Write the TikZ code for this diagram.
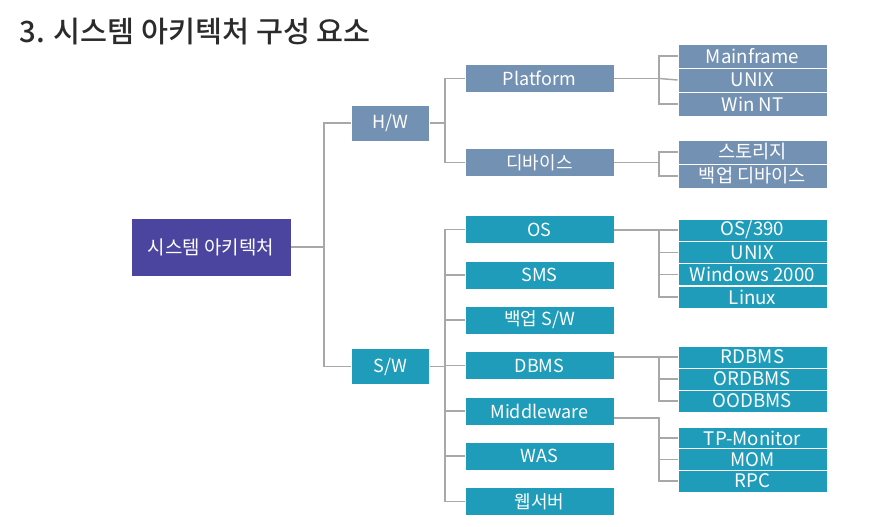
\documentclass[tikz,border=0pt]{standalone}
\usepackage{fontspec}
\setmainfont{Noto Sans CJK KR}
\newfontfamily\titlefont{Noto Sans CJK KR Medium}
\usepackage{tikz}
\usetikzlibrary{calc}
\definecolor{hwblue}{HTML}{7391B2}
\definecolor{swteal}{HTML}{1E9CBA}
\definecolor{rootind}{HTML}{4B45A0}
\definecolor{linegray}{HTML}{A8A8A8}
\definecolor{titlegray}{HTML}{2B2B2B}
\tikzset{
  box/.style={rectangle, inner sep=0pt, text=white, font=\fontsize{13.5}{13.5}\selectfont,
    draw=white, line width=0.6pt},
  hwbox/.style={box, fill=hwblue},
  swbox/.style={box, fill=swteal},
  midbox/.style={minimum width=111.75pt, minimum height=21pt},
  leafbox/.style={minimum width=111.75pt, minimum height=18pt, font=\fontsize{14}{14}\selectfont},
  leafsm/.style={minimum width=111.75pt, minimum height=16.5pt, font=\fontsize{14}{14}\selectfont},
  conn/.style={draw=linegray, line width=1.1pt}
}

\begin{document}
\begin{tikzpicture}[x=0.75pt,y=-0.75pt]

  \useasboundingbox (0,0) rectangle (896,527);

  %% title
  \node[anchor=west, text=titlegray, font=\fontsize{22}{22}\selectfont\titlefont]
    (title) at (15,32) {3. 시스템 아키텍처 구성 요소};

  %% root and first level
  \node[box, fill=rootind, minimum width=120pt, minimum height=43.5pt,
    font=\fontsize{14.2}{14.2}\selectfont] (root) at (211,247) {시스템 아키텍처};
  \node[hwbox, minimum width=59pt, minimum height=27pt] (hw) at (390.5,123) {H/W};
  \node[swbox, minimum width=59pt, minimum height=27pt] (sw) at (390.5,366.5) {S/W};

  %% H/W second level
  \node[hwbox, midbox] (plat) at (539.5,78.5) {Platform};
  \node[hwbox, midbox] (dev) at (539.5,162.5) {디바이스};

  %% S/W second level
  \node[swbox, midbox] (os) at (539.5,229.5) {OS};
  \node[swbox, midbox] (sms) at (539.5,275) {SMS};
  \node[swbox, midbox] (bsw) at (539.5,320) {백업 S/W};
  \node[swbox, midbox] (dbms) at (539.5,365.5) {DBMS};
  \node[swbox, midbox] (mid) at (539.5,411) {Middleware};
  \node[swbox, midbox] (was) at (539.5,456) {WAS};
  \node[swbox, midbox] (web) at (539.5,501.5) {웹서버};

  %% leaves (H/W)
  \node[hwbox, leafbox] (mf) at (752.5,56) {Mainframe};
  \node[hwbox, leafbox] (unx) at (752.5,80) {UNIX};
  \node[hwbox, leafbox] (wnt) at (752.5,104) {Win NT};
  \node[hwbox, leafbox] (stor) at (752.5,152) {스토리지};
  \node[hwbox, leafbox] (bdev) at (752.5,176) {백업 디바이스};

  %% leaves (S/W)
  \node[swbox, leafsm] (os390) at (752.5,230) {OS/390};
  \node[swbox, leafsm] (unx2) at (752.5,252.3) {UNIX};
  \node[swbox, leafsm] (win2k) at (752.5,274.6) {Windows 2000};
  \node[swbox, leafsm] (linux) at (752.5,297) {Linux};
  \node[swbox, leafsm] (rdb) at (752.5,357) {RDBMS};
  \node[swbox, leafsm] (ordb) at (752.5,379) {ORDBMS};
  \node[swbox, leafsm] (oodb) at (752.5,401) {OODBMS};
  \node[swbox, leafsm] (tpm) at (752.5,438.2) {TP-Monitor};
  \node[swbox, leafsm] (mom) at (752.5,459.6) {MOM};
  \node[swbox, leafsm] (rpc) at (752.5,481) {RPC};

  %% junctions
  \coordinate (j0) at (324,247);
  \coordinate (j1) at (445,123);
  \coordinate (j2) at (445,366.5);
  \coordinate (jp) at (659,78.5);
  \coordinate (jd) at (659,162.5);
  \coordinate (jo) at (659,230);
  \coordinate (jm) at (659,418);

  %% root -> H/W, S/W
  \draw[conn] (root.east) -- (j0);
  \draw[conn] (hw.west) -| (j0) |- (sw.west);

  %% H/W -> Platform, device
  \draw[conn] (hw.east) -- (j1);
  \draw[conn] (plat.west) -| (j1) |- (dev.west);

  %% S/W -> children
  \draw[conn] (sw.east) -- (j2);
  \draw[conn] (os.west) -| (j2) |- (web.west);
  \foreach \n in {sms,bsw,dbms,mid,was}
    \draw[conn] (\n.west) -- (\n.west -| j2);

  %% Platform list
  \draw[conn] (plat.east) -- (jp);
  \draw[conn] (mf.west) -| (jp) |- (wnt.west);
  \draw[conn] (jp) -- (unx.west);

  %% device list
  \draw[conn] (dev.east) -- (jd);
  \draw[conn] (stor.west) -| (jd) |- (bdev.west);

  %% OS list
  \draw[conn] (os.east |- os390.west) -- (os390.west);
  \draw[conn] (os390.west -| jo) |- (linux.west);
  \foreach \n in {unx2,win2k}
    \draw[conn] (\n.west) -- (\n.west -| jo);

  %% DBMS list
  \draw[conn] (dbms.east |- rdb.west) -- (rdb.west);
  \draw[conn] (rdb.west -| jo) |- (oodb.west);
  \draw[conn] (ordb.west) -- (ordb.west -| jo);

  %% Middleware list
  \draw[conn] (mid.east |- jm) -- (jm) |- (rpc.west);
  \foreach \n in {tpm,mom}
    \draw[conn] (\n.west) -- (\n.west -| jm);

\end{tikzpicture}
\end{document}
